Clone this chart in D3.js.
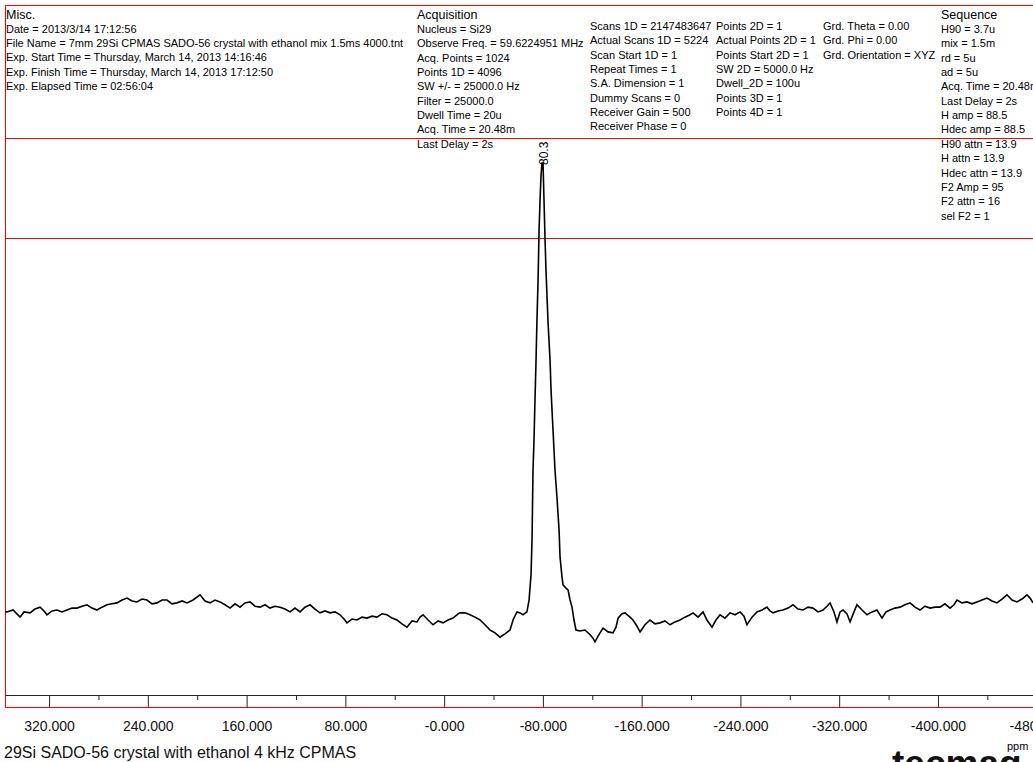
<!DOCTYPE html>
<html>
<head>
<meta charset="utf-8">
<script src="https://cdn.jsdelivr.net/npm/d3@7"></script>
<style>
body{margin:0;background:#fff;overflow:hidden}
svg{display:block;font-family:"Liberation Sans",Arial,sans-serif}
</style>
</head>
<body>
<div id="chart"></div>
<script>
// Spectrum (chemical shift in ppm, intensity in % of peak)
var ppm = [355.7,354.1,349.2,343.5,340.3,335.4,331.4,327.3,324.1,321.7,317.6,313.6,309.5,305.5,301.4,297.4,293.3,289.3,285.2,281.2,
	277.1,273.1,269.0,265.0,260.9,256.9,252.8,248.8,244.7,240.7,236.6,232.6,228.5,224.5,220.4,216.4,212.3,208.3,203.4,197.7,
	193.7,189.6,185.6,181.5,177.5,173.4,169.4,165.3,161.3,157.2,153.2,149.1,145.1,141.0,137.0,132.9,128.9,124.8,120.8,116.7,
	112.7,108.6,104.6,100.5,96.5,92.4,88.4,84.3,81.1,78.7,74.6,70.6,66.5,62.5,58.4,54.4,50.3,46.3,42.2,38.2,
	34.1,30.1,26.0,22.0,19.5,17.1,13.0,9.0,4.9,0.9,-3.2,-7.2,-11.3,-12.9,-16.9,-21.0,-25.0,-29.1,-33.1,-37.2,
	-41.2,-45.3,-49.3,-53.4,-55.8,-59.0,-61.5,-63.9,-67.1,-68.8,-70.4,-71.2,-72.0,-72.8,-73.6,-74.4,-75.2,-76.1,-76.9,-77.7,
	-78.5,-79.3,-80.1,-80.9,-81.7,-82.5,-84.2,-85.8,-86.6,-88.2,-89.8,-91.4,-93.1,-93.9,-95.5,-96.3,-98.7,-100.4,-102.0,-103.6,
	-105.2,-106.8,-110.1,-114.1,-118.2,-120.6,-122.2,-124.7,-128.7,-132.8,-136.8,-139.2,-140.9,-144.1,-146.5,-150.6,-153.0,-156.2,-158.7,-162.7,
	-166.8,-170.8,-174.9,-178.9,-183.0,-187.0,-191.1,-195.1,-199.2,-201.6,-205.7,-209.7,-212.9,-217.0,-220.2,-223.5,-227.5,-231.6,-235.6,-239.7,
	-242.9,-245.3,-249.4,-253.4,-257.5,-261.5,-264.0,-266.4,-270.5,-274.5,-278.6,-282.6,-286.7,-290.7,-294.8,-298.8,-302.9,-306.9,-310.1,-312.6,
	-315.8,-318.2,-320.7,-323.1,-326.3,-328.8,-332.0,-334.4,-338.5,-342.5,-346.6,-350.6,-354.7,-357.9,-361.2,-365.2,-369.3,-373.3,-377.4,-381.4,
	-385.5,-389.5,-393.6,-397.6,-401.7,-405.7,-409.8,-413.0,-415.4,-419.5,-423.5,-427.6,-431.6,-435.7,-439.7,-443.8,-447.8,-451.9,-455.9,-460.0,
	-464.0,-468.1,-472.1,-474.6,-477.0];
var intensity = [5.9,5.9,6.3,4.8,5.9,5.7,6.5,6.9,6.1,5.3,6.1,6.3,5.9,6.3,6.7,6.7,7.1,7.4,6.7,6.3,
	6.9,7.4,7.6,7.8,8.4,8.8,8.2,8.0,8.6,8.4,7.6,7.8,8.4,8.4,7.6,7.8,8.2,7.8,8.4,9.5,
	8.2,7.8,8.4,8.0,7.4,6.7,7.6,6.9,7.8,8.0,7.1,6.9,7.4,6.7,7.1,6.9,6.5,5.9,6.7,5.9,
	6.9,7.4,6.5,5.7,6.1,5.7,5.9,5.3,4.4,3.6,4.4,4.2,4.8,4.6,5.0,4.8,5.5,5.3,4.6,4.2,
	3.4,2.7,4.0,3.8,4.8,5.3,4.2,3.2,4.0,3.6,4.2,4.6,5.5,5.7,5.7,5.3,4.8,4.2,3.2,2.1,
	1.5,0.6,1.3,2.1,4.2,5.9,5.7,5.3,5.9,8.4,13.7,21.0,35.7,42.0,50.4,58.2,67.2,75.6,86.1,92.4,
	97.7,100.2,100.2,92.4,84.6,77.7,66.6,58.8,52.5,44.1,35.7,30.0,23.1,17.4,13.2,11.6,10.9,10.5,8.4,6.9,
	4.2,2.1,1.9,2.1,1.1,0.4,-0.4,0.8,2.5,1.7,1.5,2.7,4.6,5.5,5.7,4.8,4.2,2.9,1.7,3.2,
	4.2,3.4,3.6,4.0,3.2,3.8,4.2,4.8,5.3,5.7,4.8,5.9,4.2,2.7,4.2,5.3,4.6,5.7,5.3,5.9,
	5.0,3.2,4.8,5.9,6.3,6.9,6.1,5.7,6.1,6.3,6.7,7.4,6.5,6.3,6.9,6.7,5.9,6.3,7.1,7.8,
	5.9,3.8,5.9,6.3,5.5,3.8,5.9,7.4,6.3,5.3,5.9,6.3,4.6,5.9,6.3,6.7,6.9,7.4,7.8,6.9,
	6.3,7.1,6.7,6.9,6.9,7.6,6.7,7.4,8.4,7.8,8.0,7.6,8.0,8.4,8.8,8.2,7.8,8.6,9.5,8.4,
	8.0,8.6,9.5,8.8,7.8];
var peakPpm = -80.3;
var peakLabel = "80.3";

// Axis ticks
var majorTicks = [320,240,160,80,0,-80,-160,-240,-320,-400,-480];
var tickLabels = ["320.000","240.000","160.000","80.000","-0.000","-80.000","-160.000","-240.000","-320.000","-400.000","-480.000"];
var minorTicks = [280,200,120,40,-40,-120,-200,-280,-360,-440];

// Parameter panel text
var miscHead = "Misc.";
var miscLines = ["Date = 2013/3/14 17:12:56",
	"File Name = 7mm 29Si CPMAS SADO-56 crystal with ethanol mix 1.5ms 4000.tnt",
	"Exp. Start Time = Thursday, March 14, 2013 14:16:46",
	"Exp. Finish Time = Thursday, March 14, 2013 17:12:50",
	"Exp. Elapsed Time = 02:56:04"];
var acqHead = "Acquisition";
var acqLines = ["Nucleus = Si29","Observe Freq. = 59.6224951 MHz","Acq. Points = 1024","Points 1D = 4096",
	"SW +/- = 25000.0 Hz","Filter = 25000.0","Dwell Time = 20u","Acq. Time = 20.48m","Last Delay = 2s"];
var scanLines = ["Scans 1D = 2147483647","Actual Scans 1D = 5224","Scan Start 1D = 1","Repeat Times = 1",
	"S.A. Dimension = 1","Dummy Scans = 0","Receiver Gain = 500","Receiver Phase = 0"];
var pointLines = ["Points 2D = 1","Actual Points 2D = 1","Points Start 2D = 1","SW 2D = 5000.0 Hz",
	"Dwell_2D = 100u","Points 3D = 1","Points 4D = 1"];
var gradLines = ["Grd. Theta = 0.00","Grd. Phi = 0.00","Grd. Orientation = XYZ"];
var seqHead = "Sequence";
var seqLines = ["H90 = 3.7u","mix = 1.5m","rd = 5u","ad = 5u","Acq. Time = 20.48m","Last Delay = 2s",
	"H amp = 88.5","Hdec amp = 88.5","H90 attn = 13.9","H attn = 13.9","Hdec attn = 13.9",
	"F2 Amp = 95","F2 attn = 16","sel F2 = 1"];
var title = "29Si SADO-56 crystal with ethanol 4 kHz CPMAS";

var width = 1033, height = 762;
var svg = d3.select("#chart").append("svg")
	.attr("width", width)
	.attr("height", height);
svg.append("rect").attr("width", width).attr("height", height).attr("fill", "#fff");

// Scales
var x = d3.scaleLinear().domain([355.7, -477]).range([5, 1033]);
var y = d3.scaleLinear().domain([0, 100]).range([640, 164]);

// Red frame and section dividers
var red = "#ff0000";
[5.5, 138.5, 238.5, 707.5].forEach(function(yy){
	svg.append("line").attr("x1", 5).attr("x2", width).attr("y1", yy).attr("y2", yy)
		.attr("stroke", red).attr("stroke-width", 1);
});
svg.append("line").attr("x1", 5.5).attr("x2", 5.5).attr("y1", 5).attr("y2", 708)
	.attr("stroke", red).attr("stroke-width", 1);

// Text columns of the parameter panel
function column(lines, x0, y0, head) {
	var g = svg.append("g").attr("font-size", 11).attr("fill", "#000");
	if (head) {
		g.append("text").attr("x", x0).attr("y", 19).attr("font-size", 12.5).text(head);
	}
	g.selectAll("text.ln").data(lines).enter().append("text")
		.attr("class", "ln")
		.attr("x", x0)
		.attr("y", function(d, i){ return y0 + i * 14.35; })
		.text(function(d){ return d; });
}
column(miscLines, 6, 32.5, miscHead);
column(acqLines, 417, 33, acqHead);
column(scanLines, 590, 30);
column(pointLines, 716, 30);
column(gradLines, 823, 30);
column(seqLines, 941, 33, seqHead);

// Axis
var axisG = svg.append("g").attr("transform", "translate(0,695)");
axisG.call(d3.axisBottom(x)
	.tickValues(majorTicks)
	.tickSize(12)
	.tickSizeOuter(0)
	.tickPadding(14)
	.tickFormat(function(d, i){ return tickLabels[i]; }));
axisG.attr("font-family", null).attr("font-size", 14);
axisG.selectAll("line").attr("stroke", "#222");
axisG.select(".domain").attr("stroke", "#222");
axisG.selectAll("text").attr("fill", "#111");
var minorG = svg.append("g").attr("transform", "translate(0,695)");
minorG.call(d3.axisBottom(x).tickValues(minorTicks).tickSize(5).tickFormat(""));
minorG.select(".domain").remove();
minorG.selectAll("line").attr("stroke", "#222");

// Spectrum trace
var line = d3.line()
	.x(function(i){ return x(ppm[i]); })
	.y(function(i){ return y(intensity[i]); });
svg.append("path")
	.datum(d3.range(ppm.length))
	.attr("d", line)
	.attr("fill", "none")
	.attr("stroke", "#000")
	.attr("stroke-width", 1.6)
	.attr("stroke-linejoin", "miter");

// Peak pick label
var pkTop = d3.max(intensity);
svg.append("text")
	.attr("transform", "translate(" + (x(peakPpm) + 5) + "," + (y(pkTop) + 2) + ") rotate(-90)")
	.attr("font-size", 12)
	.text(peakLabel);

// Footer text
svg.append("text").attr("x", 4).attr("y", 758).attr("font-size", 16).attr("fill", "#111").text(title);
svg.append("text").attr("x", 1007).attr("y", 750).attr("font-size", 11).text("ppm");
svg.append("text").attr("x", 892).attr("y", 776)
	.attr("font-size", 37).attr("font-weight", "bold").attr("fill", "#111")
	.text("tecmag");
</script>
</body>
</html>
